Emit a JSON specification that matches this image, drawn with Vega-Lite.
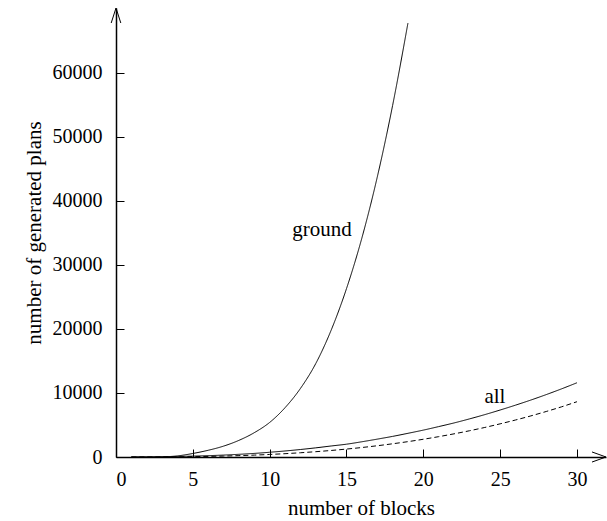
{
  "$schema": "https://vega.github.io/schema/vega-lite/v6.json",
  "width": 490,
  "height": 449,
  "autosize": {"type": "none"},
  "padding": {"left": 116, "top": 8, "right": 1, "bottom": 64},
  "background": "white",
  "config": {
    "view": {"stroke": null},
    "font": "Liberation Serif",
    "axis": {
      "grid": false,
      "domainColor": "black",
      "domainWidth": 1.5,
      "tickColor": "black",
      "tickSize": -8,
      "tickWidth": 1,
      "labelColor": "black",
      "labelFont": "Liberation Serif",
      "labelFontSize": 20,
      "titleFont": "Liberation Serif",
      "titleFontSize": 21,
      "titleFontWeight": "normal",
      "titleColor": "black"
    }
  },
  "datasets": {
    "curves": [
      {"n": 1, "plans": 0, "series": "ground"},
      {"n": 2, "plans": 5, "series": "ground"},
      {"n": 3, "plans": 30, "series": "ground"},
      {"n": 4, "plans": 170, "series": "ground"},
      {"n": 5, "plans": 550, "series": "ground"},
      {"n": 6, "plans": 1050, "series": "ground"},
      {"n": 7, "plans": 1700, "series": "ground"},
      {"n": 8, "plans": 2600, "series": "ground"},
      {"n": 9, "plans": 3800, "series": "ground"},
      {"n": 10, "plans": 5400, "series": "ground"},
      {"n": 11, "plans": 7700, "series": "ground"},
      {"n": 12, "plans": 10700, "series": "ground"},
      {"n": 13, "plans": 14600, "series": "ground"},
      {"n": 14, "plans": 19800, "series": "ground"},
      {"n": 15, "plans": 26300, "series": "ground"},
      {"n": 16, "plans": 34200, "series": "ground"},
      {"n": 17, "plans": 43700, "series": "ground"},
      {"n": 18, "plans": 54900, "series": "ground"},
      {"n": 19, "plans": 67800, "series": "ground"},
      {"n": 1, "plans": 2, "series": "all"},
      {"n": 2, "plans": 15, "series": "all"},
      {"n": 3, "plans": 40, "series": "all"},
      {"n": 4, "plans": 80, "series": "all"},
      {"n": 5, "plans": 140, "series": "all"},
      {"n": 6, "plans": 210, "series": "all"},
      {"n": 7, "plans": 300, "series": "all"},
      {"n": 8, "plans": 420, "series": "all"},
      {"n": 9, "plans": 560, "series": "all"},
      {"n": 10, "plans": 740, "series": "all"},
      {"n": 11, "plans": 940, "series": "all"},
      {"n": 12, "plans": 1170, "series": "all"},
      {"n": 13, "plans": 1430, "series": "all"},
      {"n": 14, "plans": 1720, "series": "all"},
      {"n": 15, "plans": 2000, "series": "all"},
      {"n": 16, "plans": 2380, "series": "all"},
      {"n": 17, "plans": 2790, "series": "all"},
      {"n": 18, "plans": 3220, "series": "all"},
      {"n": 19, "plans": 3700, "series": "all"},
      {"n": 20, "plans": 4200, "series": "all"},
      {"n": 21, "plans": 4750, "series": "all"},
      {"n": 22, "plans": 5320, "series": "all"},
      {"n": 23, "plans": 5950, "series": "all"},
      {"n": 24, "plans": 6620, "series": "all"},
      {"n": 25, "plans": 7340, "series": "all"},
      {"n": 26, "plans": 8100, "series": "all"},
      {"n": 27, "plans": 8900, "series": "all"},
      {"n": 28, "plans": 9750, "series": "all"},
      {"n": 29, "plans": 10650, "series": "all"},
      {"n": 30, "plans": 11600, "series": "all"},
      {"n": 1, "plans": 1, "series": "other"},
      {"n": 2, "plans": 4, "series": "other"},
      {"n": 3, "plans": 14, "series": "other"},
      {"n": 4, "plans": 31, "series": "other"},
      {"n": 5, "plans": 57, "series": "other"},
      {"n": 6, "plans": 95, "series": "other"},
      {"n": 7, "plans": 147, "series": "other"},
      {"n": 8, "plans": 213, "series": "other"},
      {"n": 9, "plans": 296, "series": "other"},
      {"n": 10, "plans": 398, "series": "other"},
      {"n": 11, "plans": 520, "series": "other"},
      {"n": 12, "plans": 664, "series": "other"},
      {"n": 13, "plans": 830, "series": "other"},
      {"n": 14, "plans": 1021, "series": "other"},
      {"n": 15, "plans": 1240, "series": "other"},
      {"n": 16, "plans": 1482, "series": "other"},
      {"n": 17, "plans": 1757, "series": "other"},
      {"n": 18, "plans": 2065, "series": "other"},
      {"n": 19, "plans": 2400, "series": "other"},
      {"n": 20, "plans": 2772, "series": "other"},
      {"n": 21, "plans": 3178, "series": "other"},
      {"n": 22, "plans": 3619, "series": "other"},
      {"n": 23, "plans": 4098, "series": "other"},
      {"n": 24, "plans": 4616, "series": "other"},
      {"n": 25, "plans": 5182, "series": "other"},
      {"n": 26, "plans": 5780, "series": "other"},
      {"n": 27, "plans": 6423, "series": "other"},
      {"n": 28, "plans": 7111, "series": "other"},
      {"n": 29, "plans": 7843, "series": "other"},
      {"n": 30, "plans": 8640, "series": "other"}
    ],
    "labels": [
      {"n": 13.4, "plans": 34530, "text": "ground"},
      {"n": 24.66, "plans": 8390, "text": "all"}
    ],
    "xarrow": [{"n": 31.89, "plans": 0}],
    "yarrow": [{"n": 0, "plans": 70156}]
  },
  "layer": [
    {
      "data": {"name": "curves"},
      "mark": {"type": "line", "color": "black", "strokeWidth": 1, "interpolate": "monotone", "clip": false},
      "encoding": {
        "x": {
          "field": "n", "type": "quantitative",
          "scale": {"domain": [0, 31.89], "nice": false, "zero": false},
          "axis": {"values": [0, 5, 10, 15, 20, 25, 30], "format": "d", "title": "number of blocks", "labelPadding": 20, "titlePadding": 8}
        },
        "y": {
          "field": "plans", "type": "quantitative",
          "scale": {"domain": [0, 70156], "nice": false, "zero": false},
          "axis": {"values": [0, 10000, 20000, 30000, 40000, 50000, 60000], "format": "d", "title": "number of generated plans", "labelPadding": 22, "titlePadding": 8}
        },
        "detail": {"field": "series"},
        "strokeDash": {
          "field": "series", "type": "nominal",
          "scale": {"domain": ["ground", "all", "other"], "range": [[1, 0], [1, 0], [5, 3]]},
          "legend": null
        }
      }
    },
    {
      "data": {"name": "labels"},
      "mark": {"type": "text", "font": "Liberation Serif", "fontSize": 21, "color": "black", "align": "center", "baseline": "alphabetic"},
      "encoding": {
        "x": {"field": "n", "type": "quantitative"},
        "y": {"field": "plans", "type": "quantitative"},
        "text": {"field": "text"}
      }
    },
    {
      "data": {"name": "xarrow"},
      "mark": {"type": "point", "shape": "M-1,-0.36L0,0L-1,0.36", "filled": false, "stroke": "black", "strokeWidth": 1, "size": 784, "opacity": 1, "clip": false},
      "encoding": {
        "x": {"field": "n", "type": "quantitative"},
        "y": {"field": "plans", "type": "quantitative"}
      }
    },
    {
      "data": {"name": "yarrow"},
      "mark": {"type": "point", "shape": "M-0.32,1L0,0L0.32,1", "filled": false, "stroke": "black", "strokeWidth": 1, "size": 900, "opacity": 1, "clip": false},
      "encoding": {
        "x": {"field": "n", "type": "quantitative"},
        "y": {"field": "plans", "type": "quantitative"}
      }
    }
  ]
}
